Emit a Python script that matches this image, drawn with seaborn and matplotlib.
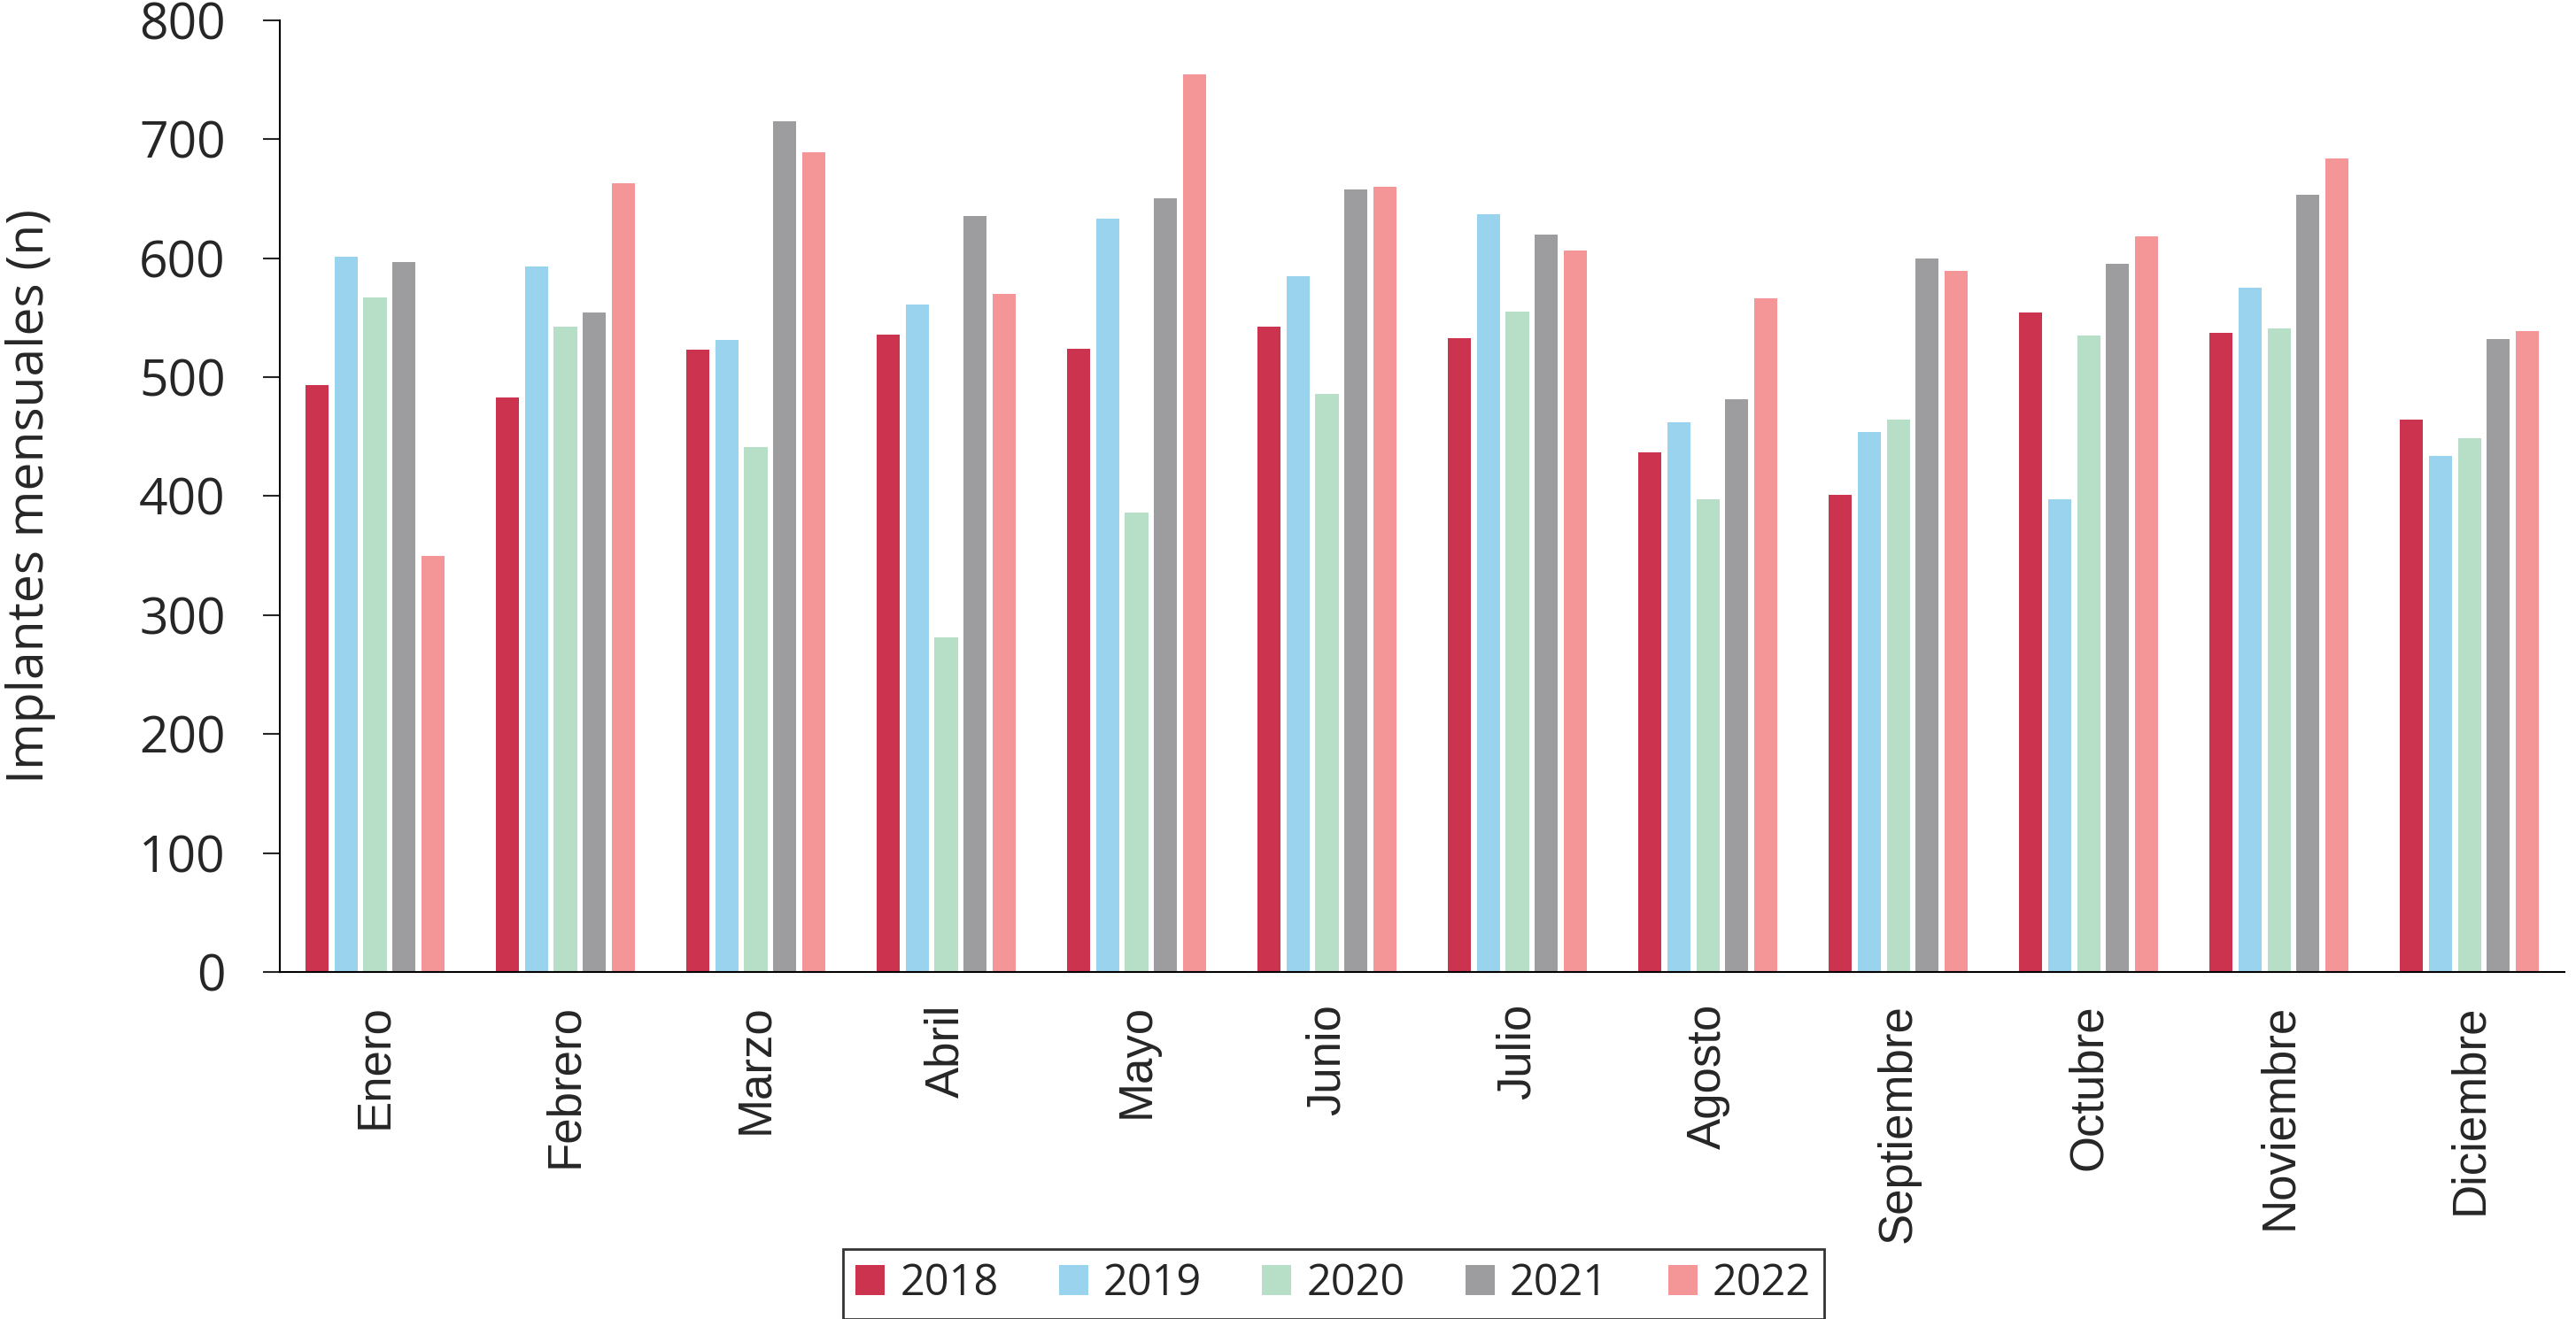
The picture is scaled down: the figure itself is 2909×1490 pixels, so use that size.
import pandas as pd
import matplotlib
matplotlib.use("Agg")
import matplotlib.pyplot as plt
import seaborn as sns

# --- Daten ---
meses = ['Enero', 'Febrero', 'Marzo', 'Abril', 'Mayo', 'Junio', 'Julio',
         'Agosto', 'Septiembre', 'Octubre', 'Noviembre', 'Diciembre']
anios = ['2018', '2019', '2020', '2021', '2022']

v2018 = [493, 483, 523, 536, 524, 542, 533, 437, 401, 554, 537, 464]
v2019 = [601, 593, 531, 561, 633, 585, 637, 462, 454, 397, 575, 434]
v2020 = [567, 542, 441, 281, 386, 486, 555, 397, 464, 535, 541, 449]
v2021 = [597, 554, 715, 635, 650, 658, 620, 481, 600, 595, 653, 532]
v2022 = [350, 663, 689, 570, 754, 660, 606, 566, 589, 618, 684, 539]

colores = ['#CC334F', '#9AD3EE', '#B7DFC8', '#9D9D9F', '#F49597']

valores = [v2018, v2019, v2020, v2021, v2022]
df = pd.DataFrame([
    {'mes': m, 'anio': a, 'n': vals[i]}
    for a, vals in zip(anios, valores)
    for i, m in enumerate(meses)
])

# --- Plot ---
sns.set_style('white')
plt.rcParams['font.family'] = ['Open Sans', 'DejaVu Sans']

fig = plt.figure(figsize=(29.09, 14.90), dpi=100)
ax = fig.add_axes([0.1086, 0.263, 0.887, 0.7218])

sns.barplot(data=df, x='mes', y='n', hue='anio', order=meses, hue_order=anios,
            palette=colores, width=0.76, gap=0.2, saturation=1, ax=ax,
            edgecolor='none', legend=True)

ax.set_xlim(-0.5, 11.5)
ax.set_ylim(0, 800)
ax.set_yticks(range(0, 801, 100))
ax.set_xlabel('')
ax.set_ylabel('Implantes mensuales (n)', fontsize=41, labelpad=68)
ax.tick_params(axis='y', labelsize=41, length=14, width=1.5, direction='out',
               left=True, pad=30)
ax.tick_params(axis='x', length=0, pad=26)
for lab in ax.get_xticklabels():
    lab.set_rotation(90)
    lab.set_fontfamily(['Liberation Sans', 'DejaVu Sans'])
    lab.set_fontsize(38)

for s in ['top', 'right']:
    ax.spines[s].set_visible(False)
for s in ['left', 'bottom']:
    ax.spines[s].set_color('black')
    ax.spines[s].set_linewidth(1.5)

leg = ax.legend(loc='center', bbox_to_anchor=(0.5176, 0.0265),
                bbox_transform=fig.transFigure, ncol=5, fontsize=35,
                frameon=True, fancybox=False, handlelength=0.68,
                handleheight=0.7, handletextpad=0.35, columnspacing=1.4,
                borderpad=0.3, borderaxespad=0)
leg.get_frame().set_edgecolor('black')
leg.get_frame().set_linewidth(2)

fig.savefig('out.png', dpi=100)
